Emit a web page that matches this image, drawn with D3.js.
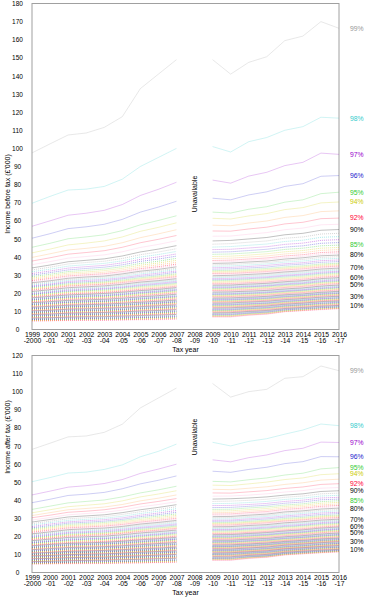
<!DOCTYPE html>
<html>
<head>
<meta charset="utf-8">
<script src="https://cdn.jsdelivr.net/npm/d3@7"></script>
<style>
  body { margin: 0; background: #fff; }
  svg text { font-family: "Liberation Sans", Arial, sans-serif; }
</style>
</head>
<body>
<div id="chart"></div>
<script>
// Percentile points of income, 1999-2000 to 2016-17 (2008-09 not available)
// Each array holds the 1st..99th percentile for one tax year, in £'000

const yearStart = ["1999", "2000", "2001", "2002", "2003", "2004", "2005", "2006", "2007",
                   "2008", "2009", "2010", "2011", "2012", "2013", "2014", "2015", "2016"];
const yearEnd = ["-2000", "-01", "-02", "-03", "-04", "-05", "-06", "-07", "-08",
                 "-09", "-10", "-11", "-12", "-13", "-14", "-15", "-16", "-17"];

// ---- income before tax ----
const before1999 = [4.6,4.8,5.0,5.2,5.4,5.5,5.7,5.9,6.1,6.3, 6.5,6.7,6.9,7.1,7.3,7.5,7.7,7.9,8.1,8.3,8.5,8.7,8.9,9.1,9.3, 9.5,9.7,9.9,10.1,10.3,10.5,10.7,10.9,11.1,11.3,11.5,11.7,11.9,12.1,12.3, 12.6,12.8,13.1,13.3,13.6,13.8,14.1,14.3,14.6,14.8, 15.1,15.3,15.6,15.9,16.2,16.4,16.7,17.0,17.3,17.5,17.8,18.1, 18.4,18.7,19.1,19.4,19.8,20.2,20.6,21.0,21.4,21.8,22.2,22.6,23.1, 23.6,24.1,24.6,25.2,25.8,26.4,27.0, 27.7,28.4,29.2,30.0,30.9,31.9,32.9,34.0, 35.8,37.8,39.8,42.3,45.4,50.4,57.0,69.7,97.5];
const before2000 = [4.7,4.9,5.1,5.3,5.5,5.7,5.9,6.1,6.3,6.5, 6.7,6.9,7.1,7.3,7.5,7.7,7.9,8.1,8.3,8.5,8.8,9.0,9.2,9.4,9.6, 9.8,10.0,10.2,10.4,10.6,10.8,11.0,11.2,11.5,11.7,11.9,12.1,12.3,12.6,12.8, 13.1,13.3,13.6,13.8,14.1,14.4,14.6,14.9,15.1,15.4, 15.7,16.0,16.3,16.6,16.9,17.2,17.5,17.7,18.0,18.3,18.6,18.9, 19.3,19.6,20.0,20.4,20.8,21.2,21.6,22.0,22.4,22.8,23.2,23.6,24.1, 24.6,25.1,25.7,26.3,26.9,27.5,28.2, 28.9,29.7,30.5,31.4,32.3,33.3,34.4,35.6, 37.5,39.6,41.8,44.4,47.6,52.9,60.0,73.5,102.5];
const before2001 = [4.9,5.1,5.3,5.5,5.7,5.9,6.2,6.4,6.6,6.8, 7.0,7.2,7.5,7.7,7.9,8.1,8.3,8.6,8.8,9.0,9.2,9.4,9.7,9.9,10.1, 10.3,10.5,10.8,11.0,11.2,11.4,11.6,11.9,12.1,12.3,12.5,12.7,13.0,13.2,13.4, 13.7,13.9,14.2,14.5,14.8,15.0,15.3,15.6,15.8,16.1, 16.4,16.7,17.0,17.3,17.6,17.9,18.2,18.5,18.8,19.1,19.4,19.7, 20.1,20.5,20.9,21.3,21.8,22.2,22.6,23.1,23.5,24.0,24.4,24.8,25.3, 25.9,26.5,27.1,27.7,28.3,29.0,29.6, 30.4,31.2,32.0,32.9,33.9,35.0,36.2,37.4, 39.4,41.6,43.9,46.7,50.1,55.7,63.1,77.0,107.4];
const before2002 = [5.0,5.2,5.4,5.7,5.9,6.1,6.3,6.6,6.8,7.0, 7.2,7.4,7.7,7.9,8.1,8.3,8.5,8.8,9.0,9.2,9.4,9.6,9.9,10.1,10.3, 10.5,10.8,11.0,11.2,11.4,11.7,11.9,12.1,12.3,12.6,12.8,13.0,13.2,13.5,13.7, 14.0,14.2,14.5,14.8,15.1,15.3,15.6,15.9,16.1,16.4, 16.7,17.0,17.3,17.6,17.9,18.3,18.6,18.9,19.2,19.5,19.8,20.1, 20.5,21.0,21.4,21.8,22.3,22.7,23.2,23.6,24.0,24.5,24.9,25.4,25.8, 26.4,27.1,27.7,28.3,29.0,29.6,30.2, 31.0,31.8,32.7,33.7,34.7,35.8,37.0,38.2, 40.3,42.5,44.8,47.7,51.1,56.7,64.2,77.5,108.5];
const before2003 = [5.0,5.2,5.5,5.7,5.9,6.2,6.4,6.6,6.9,7.1, 7.3,7.6,7.8,8.0,8.2,8.5,8.7,8.9,9.1,9.4,9.6,9.8,10.1,10.3,10.5, 10.7,11.0,11.2,11.4,11.7,11.9,12.1,12.4,12.6,12.8,13.1,13.3,13.5,13.8,14.0, 14.3,14.5,14.8,15.1,15.4,15.6,15.9,16.2,16.4,16.7, 17.0,17.3,17.7,18.0,18.3,18.6,18.9,19.2,19.6,19.9,20.2,20.5, 20.9,21.4,21.8,22.3,22.7,23.2,23.6,24.1,24.5,25.0,25.4,25.9,26.3, 26.9,27.6,28.2,28.9,29.5,30.2,30.8, 31.6,32.5,33.4,34.4,35.4,36.5,37.7,39.0, 41.2,43.5,45.9,48.9,52.3,58.1,65.8,79.0,111.6];
const before2004 = [5.1,5.4,5.6,5.9,6.1,6.4,6.6,6.9,7.1,7.4, 7.6,7.9,8.1,8.3,8.6,8.8,9.0,9.3,9.5,9.7,10.0,10.2,10.4,10.7,10.9, 11.1,11.4,11.6,11.9,12.1,12.3,12.6,12.8,13.1,13.3,13.5,13.8,14.0,14.3,14.5, 14.8,15.1,15.3,15.6,15.9,16.2,16.5,16.7,17.0,17.3, 17.6,18.0,18.3,18.6,18.9,19.3,19.6,19.9,20.2,20.6,20.9,21.2, 21.7,22.1,22.6,23.1,23.5,24.0,24.5,25.0,25.4,25.9,26.4,26.8,27.3, 28.0,28.6,29.3,30.0,30.7,31.3,32.0, 32.9,33.8,34.7,35.7,36.8,37.9,39.2,40.6, 42.9,45.4,47.9,51.1,54.6,60.8,69.0,83.0,117.5];
const before2005 = [5.3,5.6,5.8,6.1,6.4,6.6,6.9,7.2,7.4,7.7, 7.9,8.2,8.4,8.7,8.9,9.2,9.4,9.7,9.9,10.2,10.4,10.7,10.9,11.2,11.4, 11.6,11.9,12.1,12.4,12.6,12.9,13.1,13.4,13.6,13.9,14.1,14.4,14.6,14.9,15.1, 15.4,15.7,16.0,16.3,16.6,16.9,17.2,17.5,17.8,18.1, 18.4,18.8,19.1,19.5,19.8,20.2,20.5,20.8,21.2,21.5,21.9,22.2, 22.7,23.2,23.7,24.2,24.7,25.2,25.7,26.2,26.6,27.1,27.6,28.1,28.6, 29.3,30.0,30.7,31.5,32.2,32.9,33.6, 34.5,35.5,36.5,37.6,38.7,40.0,41.3,42.8, 45.3,47.9,50.7,54.2,57.8,64.8,74.0,90.0,133.0];
const before2006 = [5.4,5.7,6.0,6.3,6.6,6.8,7.1,7.4,7.7,8.0, 8.3,8.5,8.8,9.0,9.3,9.5,9.8,10.0,10.3,10.5,10.8,11.0,11.3,11.5,11.8, 12.1,12.3,12.6,12.8,13.1,13.3,13.6,13.8,14.1,14.3,14.6,14.8,15.1,15.3,15.6, 15.9,16.2,16.5,16.8,17.2,17.5,17.8,18.1,18.4,18.7, 19.1,19.4,19.8,20.1,20.5,20.8,21.2,21.5,21.9,22.2,22.6,22.9, 23.4,23.9,24.4,25.0,25.5,26.0,26.5,27.0,27.5,28.1,28.6,29.1,29.6, 30.3,31.1,31.8,32.5,33.2,34.0,34.7, 35.7,36.7,37.7,38.9,40.1,41.4,42.8,44.4, 47.0,49.8,52.8,56.4,60.2,67.6,77.4,95.0,141.0];
const before2007 = [5.6,5.9,6.2,6.5,6.8,7.1,7.4,7.7,8.0,8.3, 8.6,8.8,9.1,9.4,9.6,9.9,10.2,10.4,10.7,11.0,11.2,11.5,11.8,12.0,12.3, 12.6,12.8,13.1,13.4,13.6,13.9,14.2,14.4,14.7,15.0,15.2,15.5,15.8,16.0,16.3, 16.6,16.9,17.3,17.6,17.9,18.2,18.5,18.9,19.2,19.5, 19.9,20.2,20.6,21.0,21.3,21.7,22.1,22.4,22.8,23.2,23.5,23.9, 24.4,25.0,25.5,26.0,26.6,27.1,27.6,28.1,28.7,29.2,29.7,30.3,30.8, 31.6,32.3,33.1,33.8,34.6,35.3,36.1, 37.1,38.2,39.3,40.5,41.7,43.1,44.6,46.3, 49.0,51.9,55.1,58.9,62.8,70.8,81.3,100.0,149.0];
const before2009 = [6.8,7.1,7.3,7.6,7.9,8.1,8.4,8.7,8.9,9.2, 9.5,9.7,10.0,10.3,10.5,10.8,11.1,11.3,11.6,11.9,12.1,12.4,12.7,12.9,13.2, 13.5,13.8,14.0,14.3,14.6,14.9,15.2,15.4,15.7,16.0,16.3,16.6,16.8,17.1,17.4, 17.7,18.1,18.4,18.7,19.1,19.4,19.7,20.0,20.4,20.7, 21.1,21.5,21.9,22.2,22.6,23.0,23.4,23.8,24.1,24.5,24.9,25.3, 25.9,26.4,27.0,27.5,28.1,28.6,29.2,29.7,30.3,30.9,31.4,32.0,32.5, 33.3,34.1,34.9,35.7,36.5,37.3,38.1, 39.2,40.3,41.5,42.7,44.1,45.5,47.1,48.9, 51.5,54.4,57.6,61.4,64.8,72.5,82.5,101.0,149.0];
const before2010 = [6.8,7.1,7.4,7.6,7.9,8.2,8.5,8.7,9.0,9.3, 9.6,9.8,10.1,10.4,10.6,10.9,11.2,11.4,11.7,12.0,12.2,12.5,12.8,13.0,13.3, 13.6,13.9,14.1,14.4,14.7,15.0,15.3,15.5,15.8,16.1,16.4,16.7,16.9,17.2,17.5, 17.8,18.2,18.5,18.8,19.2,19.5,19.8,20.1,20.5,20.8, 21.2,21.6,22.0,22.3,22.7,23.1,23.5,23.9,24.2,24.6,25.0,25.4, 26.0,26.5,27.1,27.6,28.2,28.8,29.3,29.9,30.5,31.0,31.6,32.1,32.7, 33.5,34.3,35.1,35.9,36.7,37.5,38.3, 39.4,40.5,41.7,42.9,44.3,45.8,47.4,49.2, 51.6,54.3,57.3,61.0,64.3,71.6,80.8,98.0,141.0];
const before2011 = [7.8,8.0,8.3,8.5,8.8,9.0,9.3,9.5,9.8,10.0, 10.3,10.5,10.8,11.0,11.3,11.5,11.8,12.0,12.3,12.5,12.8,13.0,13.3,13.5,13.8, 14.1,14.3,14.6,14.9,15.2,15.4,15.7,16.0,16.3,16.5,16.8,17.1,17.4,17.6,17.9, 18.2,18.6,18.9,19.2,19.6,19.9,20.2,20.5,20.9,21.2, 21.6,22.0,22.4,22.8,23.2,23.6,23.9,24.3,24.7,25.1,25.5,25.9, 26.5,27.0,27.6,28.1,28.7,29.3,29.8,30.4,31.0,31.5,32.1,32.6,33.2, 34.0,34.8,35.6,36.5,37.3,38.1,38.9, 40.0,41.1,42.3,43.6,45.0,46.5,48.2,50.0, 52.6,55.5,58.8,62.7,66.4,74.3,84.7,103.7,147.5];
const before2012 = [8.4,8.6,8.9,9.1,9.3,9.6,9.8,10.0,10.3,10.5, 10.7,11.0,11.2,11.5,11.7,12.0,12.2,12.5,12.7,13.0,13.2,13.5,13.7,14.0,14.2, 14.5,14.7,15.0,15.3,15.6,15.8,16.1,16.4,16.7,16.9,17.2,17.5,17.8,18.0,18.3, 18.6,19.0,19.3,19.6,20.0,20.3,20.6,20.9,21.3,21.6, 22.0,22.4,22.8,23.2,23.6,24.0,24.3,24.7,25.1,25.5,25.9,26.3, 26.9,27.4,28.0,28.6,29.1,29.7,30.3,30.9,31.4,32.0,32.6,33.1,33.7, 34.5,35.4,36.2,37.0,37.8,38.7,39.5, 40.6,41.8,43.0,44.3,45.7,47.2,48.9,50.8, 53.5,56.5,59.9,64.0,67.8,76.0,86.8,106.0,150.6];
const before2013 = [9.7,9.9,10.1,10.3,10.5,10.8,11.0,11.2,11.4,11.6, 11.8,12.1,12.3,12.6,12.8,13.0,13.3,13.5,13.8,14.0,14.2,14.5,14.7,15.0,15.2, 15.5,15.7,16.0,16.3,16.5,16.8,17.1,17.3,17.6,17.9,18.1,18.4,18.7,18.9,19.2, 19.5,19.8,20.2,20.5,20.8,21.1,21.4,21.8,22.1,22.4, 22.8,23.2,23.6,24.0,24.4,24.8,25.2,25.6,26.0,26.4,26.8,27.2, 27.8,28.3,28.9,29.5,30.0,30.6,31.2,31.8,32.3,32.9,33.5,34.0,34.6, 35.5,36.3,37.2,38.0,38.9,39.7,40.6, 41.7,42.9,44.2,45.5,47.0,48.6,50.4,52.3, 55.1,58.3,61.9,66.2,70.3,79.0,90.5,110.0,159.5];
const before2014 = [10.3,10.5,10.7,10.9,11.1,11.4,11.6,11.8,12.0,12.2, 12.4,12.7,12.9,13.2,13.4,13.6,13.9,14.1,14.4,14.6,14.8,15.1,15.3,15.6,15.8, 16.1,16.3,16.6,16.8,17.1,17.4,17.6,17.9,18.1,18.4,18.7,18.9,19.2,19.4,19.7, 20.0,20.4,20.7,21.0,21.4,21.7,22.0,22.3,22.7,23.0, 23.4,23.8,24.2,24.6,25.0,25.4,25.8,26.2,26.6,27.0,27.4,27.8, 28.4,28.9,29.5,30.1,30.6,31.2,31.8,32.4,32.9,33.5,34.1,34.6,35.2, 36.1,36.9,37.8,38.7,39.6,40.4,41.3, 42.4,43.6,44.9,46.2,47.7,49.3,51.1,53.1, 56.0,59.2,62.9,67.3,71.6,80.5,92.3,112.0,162.0];
const before2015 = [10.9,11.1,11.3,11.6,11.8,12.0,12.2,12.5,12.7,12.9, 13.1,13.4,13.6,13.9,14.1,14.4,14.6,14.9,15.1,15.4,15.6,15.9,16.1,16.4,16.6, 16.9,17.1,17.4,17.7,17.9,18.2,18.5,18.7,19.0,19.3,19.5,19.8,20.1,20.3,20.6, 20.9,21.3,21.6,22.0,22.3,22.6,23.0,23.3,23.7,24.0, 24.4,24.8,25.2,25.6,26.0,26.4,26.9,27.3,27.7,28.1,28.5,28.9, 29.5,30.0,30.6,31.1,31.7,32.3,32.8,33.4,34.0,34.5,35.1,35.6,36.2, 37.1,38.0,38.9,39.8,40.7,41.6,42.5, 43.7,44.9,46.2,47.6,49.2,50.9,52.7,54.8, 57.8,61.2,65.1,69.9,75.0,84.6,97.4,117.2,170.0];
const before2016 = [11.4,11.6,11.8,12.0,12.2,12.5,12.7,12.9,13.1,13.3, 13.6,13.8,14.1,14.3,14.6,14.8,15.1,15.3,15.6,15.8,16.1,16.3,16.6,16.8,17.1, 17.4,17.6,17.9,18.2,18.4,18.7,19.0,19.2,19.5,19.8,20.0,20.3,20.6,20.8,21.1, 21.5,21.8,22.2,22.5,22.9,23.2,23.6,23.9,24.3,24.6, 25.0,25.4,25.8,26.2,26.6,27.0,27.5,27.9,28.3,28.7,29.1,29.5, 30.0,30.6,31.1,31.7,32.2,32.8,33.3,33.9,34.4,35.0,35.5,36.1,36.6, 37.5,38.4,39.3,40.2,41.1,42.0,42.9, 44.1,45.3,46.6,48.0,49.6,51.3,53.1,55.2, 58.1,61.5,65.5,70.4,75.8,85.0,96.7,116.7,166.3];

// ---- income after tax ----
const after1999 = [4.6,4.8,4.9,5.1,5.2,5.4,5.5,5.7,5.8,6.0, 6.2,6.3,6.5,6.6,6.8,7.0,7.1,7.3,7.4,7.6,7.8,7.9,8.1,8.2,8.4, 8.6,8.7,8.9,9.0,9.2,9.3,9.5,9.6,9.8,9.9,10.1,10.2,10.4,10.5,10.7, 10.9,11.1,11.3,11.5,11.7,11.8,12.0,12.2,12.4,12.6, 12.8,13.0,13.3,13.5,13.7,13.9,14.1,14.3,14.6,14.8,15.0,15.2, 15.5,15.8,16.1,16.4,16.7,17.0,17.3,17.6,18.0,18.3,18.6,18.9,19.2, 19.6,20.1,20.5,21.0,21.4,21.9,22.3, 22.9,23.5,24.1,24.7,25.4,26.2,27.0,27.9, 29.0,30.3,31.5,33.0,34.9,38.6,42.9,50.2,68.1];
const after2000 = [4.7,4.9,5.0,5.2,5.4,5.5,5.7,5.9,6.0,6.2, 6.4,6.5,6.7,6.8,7.0,7.2,7.3,7.5,7.6,7.8,8.0,8.1,8.3,8.4,8.6, 8.8,8.9,9.1,9.3,9.4,9.6,9.8,9.9,10.1,10.3,10.4,10.6,10.8,10.9,11.1, 11.3,11.5,11.7,11.9,12.2,12.4,12.6,12.8,13.0,13.2, 13.4,13.7,13.9,14.1,14.3,14.6,14.8,15.0,15.2,15.5,15.7,15.9, 16.2,16.5,16.9,17.2,17.5,17.8,18.2,18.5,18.8,19.1,19.4,19.8,20.1, 20.6,21.1,21.6,22.0,22.5,23.0,23.5, 24.1,24.7,25.3,26.0,26.8,27.6,28.4,29.3, 30.4,31.7,33.1,34.7,36.7,40.5,45.0,52.5,71.5];
const after2001 = [4.8,5.0,5.2,5.4,5.6,5.7,5.9,6.1,6.3,6.5, 6.7,6.8,7.0,7.2,7.4,7.5,7.7,7.9,8.1,8.2,8.4,8.6,8.7,8.9,9.1, 9.3,9.4,9.6,9.8,9.9,10.1,10.3,10.5,10.7,10.8,11.0,11.2,11.3,11.5,11.7, 11.9,12.1,12.3,12.5,12.8,13.0,13.2,13.4,13.6,13.8, 14.0,14.3,14.5,14.7,15.0,15.2,15.4,15.7,15.9,16.1,16.4,16.6, 17.0,17.3,17.7,18.0,18.4,18.7,19.1,19.4,19.8,20.1,20.5,20.8,21.2, 21.7,22.2,22.7,23.2,23.7,24.2,24.7, 25.3,25.9,26.6,27.3,28.0,28.8,29.7,30.7, 31.9,33.3,34.7,36.4,38.5,42.6,47.2,55.0,75.0];
const after2002 = [4.9,5.1,5.3,5.5,5.7,5.9,6.1,6.3,6.5,6.7, 6.9,7.0,7.2,7.4,7.6,7.7,7.9,8.1,8.3,8.4,8.6,8.8,8.9,9.1,9.3, 9.5,9.6,9.8,10.0,10.1,10.3,10.5,10.7,10.9,11.0,11.2,11.4,11.5,11.7,11.9, 12.1,12.3,12.5,12.7,13.0,13.2,13.4,13.6,13.8,14.0, 14.2,14.5,14.7,15.0,15.2,15.5,15.7,15.9,16.2,16.4,16.7,16.9, 17.3,17.6,18.0,18.4,18.7,19.1,19.4,19.8,20.2,20.5,20.9,21.2,21.6, 22.1,22.6,23.1,23.7,24.2,24.7,25.2, 25.8,26.5,27.1,27.8,28.6,29.4,30.3,31.3, 32.6,33.9,35.4,37.2,39.3,43.3,48.0,55.5,75.5];
const after2003 = [4.9,5.1,5.3,5.5,5.7,6.0,6.2,6.4,6.6,6.8, 7.0,7.1,7.3,7.5,7.7,7.8,8.0,8.2,8.4,8.5,8.7,8.9,9.0,9.2,9.4, 9.6,9.8,10.0,10.1,10.3,10.5,10.7,10.9,11.1,11.3,11.5,11.6,11.8,12.0,12.2, 12.4,12.6,12.8,13.0,13.3,13.5,13.7,13.9,14.1,14.3, 14.5,14.8,15.0,15.3,15.5,15.8,16.0,16.2,16.5,16.7,17.0,17.2, 17.6,18.0,18.3,18.7,19.0,19.4,19.8,20.1,20.5,20.9,21.3,21.6,22.0, 22.5,23.1,23.6,24.1,24.6,25.2,25.7, 26.3,27.0,27.7,28.4,29.2,30.0,30.9,31.9, 33.3,34.7,36.2,38.0,40.1,44.3,49.2,57.0,77.5];
const after2004 = [5.1,5.3,5.5,5.8,6.0,6.2,6.4,6.7,6.9,7.1, 7.3,7.5,7.6,7.8,8.0,8.2,8.4,8.5,8.7,8.9,9.1,9.3,9.4,9.6,9.8, 10.0,10.2,10.4,10.5,10.7,10.9,11.1,11.3,11.5,11.7,11.9,12.0,12.2,12.4,12.6, 12.8,13.0,13.3,13.5,13.7,13.9,14.1,14.4,14.6,14.8, 15.1,15.3,15.6,15.8,16.1,16.3,16.6,16.8,17.1,17.3,17.6,17.8, 18.2,18.6,19.0,19.3,19.7,20.1,20.5,20.9,21.3,21.7,22.0,22.4,22.8, 23.3,23.9,24.4,25.0,25.5,26.1,26.6, 27.3,28.0,28.7,29.4,30.2,31.1,32.1,33.1, 34.5,36.1,37.6,39.6,41.8,46.3,51.4,59.5,82.0];
const after2005 = [5.2,5.4,5.7,5.9,6.1,6.4,6.6,6.8,7.1,7.3, 7.5,7.7,7.9,8.1,8.3,8.5,8.7,8.8,9.0,9.2,9.4,9.6,9.8,10.0,10.2, 10.4,10.6,10.8,11.0,11.2,11.4,11.6,11.7,11.9,12.1,12.3,12.5,12.7,12.9,13.1, 13.3,13.6,13.8,14.0,14.3,14.5,14.7,14.9,15.2,15.4, 15.7,15.9,16.2,16.5,16.7,17.0,17.3,17.5,17.8,18.1,18.3,18.6, 19.0,19.4,19.8,20.2,20.6,21.0,21.5,21.9,22.3,22.7,23.1,23.5,23.9, 24.5,25.0,25.6,26.2,26.8,27.3,27.9, 28.6,29.3,30.1,30.9,31.7,32.6,33.6,34.7, 36.3,37.9,39.6,41.8,44.0,49.0,54.8,64.0,91.0];
const after2006 = [5.4,5.6,5.9,6.1,6.4,6.6,6.9,7.1,7.4,7.6, 7.8,8.0,8.2,8.4,8.6,8.8,9.0,9.2,9.4,9.6,9.8,10.0,10.2,10.4,10.6, 10.8,11.0,11.2,11.4,11.6,11.8,12.0,12.1,12.3,12.5,12.7,12.9,13.1,13.3,13.5, 13.8,14.0,14.3,14.5,14.8,15.0,15.3,15.5,15.8,16.0, 16.3,16.5,16.8,17.1,17.3,17.6,17.9,18.1,18.4,18.7,18.9,19.2, 19.6,20.0,20.5,20.9,21.3,21.7,22.2,22.6,23.0,23.4,23.8,24.3,24.7, 25.3,25.9,26.5,27.1,27.7,28.3,28.9, 29.6,30.4,31.2,32.0,32.9,33.9,34.9,36.0, 37.6,39.3,41.1,43.4,45.7,51.0,57.2,67.0,96.5];
const after2007 = [5.5,5.8,6.0,6.3,6.6,6.8,7.1,7.4,7.6,7.9, 8.1,8.3,8.5,8.7,8.9,9.1,9.3,9.6,9.8,10.0,10.2,10.4,10.6,10.8,11.0, 11.2,11.4,11.6,11.8,12.0,12.2,12.4,12.7,12.9,13.1,13.3,13.5,13.7,13.9,14.1, 14.4,14.6,14.9,15.1,15.4,15.6,15.9,16.1,16.4,16.6, 16.9,17.2,17.5,17.8,18.1,18.4,18.6,18.9,19.2,19.5,19.8,20.1, 20.5,21.0,21.4,21.8,22.3,22.7,23.1,23.5,24.0,24.4,24.8,25.3,25.7, 26.3,26.9,27.5,28.2,28.8,29.4,30.0, 30.8,31.6,32.4,33.3,34.3,35.3,36.4,37.5, 39.1,40.9,42.9,45.2,47.7,53.4,59.9,71.0,102.0];
const after2009 = [6.7,6.9,7.1,7.4,7.6,7.8,8.0,8.3,8.5,8.7, 8.9,9.1,9.3,9.6,9.8,10.0,10.2,10.4,10.6,10.8,11.0,11.3,11.5,11.7,11.9, 12.1,12.3,12.6,12.8,13.0,13.2,13.4,13.7,13.9,14.1,14.3,14.5,14.8,15.0,15.2, 15.5,15.7,16.0,16.3,16.6,16.8,17.1,17.4,17.6,17.9, 18.2,18.5,18.8,19.1,19.4,19.7,20.0,20.3,20.6,20.9,21.2,21.5, 22.0,22.4,22.9,23.4,23.8,24.3,24.8,25.3,25.7,26.2,26.7,27.1,27.6, 28.3,28.9,29.6,30.3,30.9,31.6,32.3, 33.1,34.0,34.9,35.9,37.0,38.1,39.3,40.6, 42.2,44.0,46.0,48.3,50.4,56.0,62.3,72.0,104.5];
const after2010 = [6.7,6.9,7.2,7.4,7.6,7.8,8.1,8.3,8.5,8.7, 8.9,9.2,9.4,9.6,9.8,10.0,10.3,10.5,10.7,10.9,11.1,11.3,11.5,11.7,11.9, 12.1,12.4,12.6,12.8,13.0,13.3,13.5,13.7,13.9,14.2,14.4,14.6,14.8,15.1,15.3, 15.6,15.8,16.1,16.3,16.6,16.9,17.1,17.4,17.6,17.9, 18.2,18.5,18.8,19.1,19.4,19.7,20.1,20.4,20.7,21.0,21.3,21.6, 22.1,22.5,23.0,23.5,23.9,24.4,24.9,25.4,25.8,26.3,26.8,27.2,27.7, 28.4,29.0,29.7,30.4,31.0,31.7,32.4, 33.2,34.1,35.0,36.0,37.1,38.2,39.5,40.8, 42.3,43.9,45.8,48.1,50.1,55.4,61.2,70.0,97.0];
const after2011 = [7.7,7.9,8.1,8.3,8.5,8.7,8.9,9.1,9.3,9.5, 9.7,9.9,10.1,10.3,10.5,10.7,10.9,11.1,11.3,11.5,11.7,11.9,12.1,12.3,12.5, 12.7,12.9,13.2,13.4,13.6,13.8,14.0,14.3,14.5,14.7,14.9,15.1,15.4,15.6,15.8, 16.1,16.3,16.6,16.9,17.2,17.4,17.7,18.0,18.2,18.5, 18.8,19.1,19.4,19.7,20.0,20.3,20.7,21.0,21.3,21.6,21.9,22.2, 22.7,23.1,23.6,24.1,24.5,25.0,25.5,26.0,26.4,26.9,27.4,27.8,28.3, 29.0,29.7,30.4,31.0,31.7,32.4,33.1, 33.9,34.8,35.7,36.6,37.6,38.7,39.9,41.2, 42.8,44.6,46.6,49.0,51.3,57.0,63.5,72.5,100.0];
const after2012 = [8.3,8.5,8.7,8.9,9.1,9.2,9.4,9.6,9.8,10.0, 10.2,10.4,10.6,10.8,11.0,11.2,11.4,11.6,11.8,12.0,12.2,12.4,12.6,12.8,13.0, 13.2,13.4,13.7,13.9,14.1,14.3,14.5,14.8,15.0,15.2,15.4,15.6,15.9,16.1,16.3, 16.6,16.8,17.1,17.3,17.6,17.9,18.1,18.4,18.6,18.9, 19.2,19.5,19.9,20.2,20.5,20.8,21.1,21.4,21.8,22.1,22.4,22.7, 23.2,23.7,24.1,24.6,25.1,25.6,26.0,26.5,27.0,27.5,28.0,28.4,28.9, 29.6,30.3,31.0,31.6,32.3,33.0,33.7, 34.5,35.4,36.3,37.2,38.2,39.3,40.5,41.8, 43.5,45.3,47.4,50.0,52.3,58.2,65.0,74.0,101.3];
const after2013 = [9.6,9.8,10.0,10.1,10.3,10.5,10.7,10.8,11.0,11.2, 11.4,11.6,11.8,11.9,12.1,12.3,12.5,12.7,12.9,13.1,13.3,13.4,13.6,13.8,14.0, 14.2,14.4,14.6,14.9,15.1,15.3,15.5,15.7,15.9,16.1,16.3,16.6,16.8,17.0,17.2, 17.5,17.7,18.0,18.2,18.5,18.8,19.0,19.3,19.5,19.8, 20.1,20.4,20.8,21.1,21.4,21.7,22.0,22.3,22.7,23.0,23.3,23.6, 24.1,24.6,25.1,25.5,26.0,26.5,27.0,27.5,28.0,28.5,28.9,29.4,29.9, 30.6,31.3,32.0,32.8,33.5,34.2,34.9, 35.7,36.5,37.3,38.3,39.3,40.4,41.6,42.8, 44.5,46.5,48.7,51.4,53.9,60.2,67.4,76.5,107.4];
const after2014 = [10.2,10.4,10.6,10.7,10.9,11.1,11.3,11.4,11.6,11.8, 12.0,12.2,12.4,12.5,12.7,12.9,13.1,13.3,13.5,13.7,13.9,14.0,14.2,14.4,14.6, 14.8,15.0,15.2,15.5,15.7,15.9,16.1,16.3,16.5,16.7,16.9,17.2,17.4,17.6,17.8, 18.1,18.3,18.6,18.8,19.1,19.4,19.6,19.9,20.1,20.4, 20.7,21.0,21.4,21.7,22.0,22.3,22.6,22.9,23.3,23.6,23.9,24.2, 24.7,25.2,25.7,26.1,26.6,27.1,27.6,28.1,28.6,29.1,29.5,30.0,30.5, 31.2,32.0,32.7,33.4,34.1,34.9,35.6, 36.4,37.2,38.0,39.0,40.0,41.1,42.3,43.5, 45.3,47.3,49.6,52.3,54.9,61.3,68.7,78.8,108.3];
const after2015 = [10.8,11.0,11.2,11.3,11.5,11.7,11.9,12.0,12.2,12.4, 12.6,12.8,13.0,13.2,13.4,13.6,13.8,14.0,14.2,14.4,14.6,14.8,15.0,15.2,15.4, 15.6,15.8,16.0,16.3,16.5,16.7,16.9,17.1,17.3,17.5,17.7,18.0,18.2,18.4,18.6, 18.9,19.1,19.4,19.7,20.0,20.2,20.5,20.8,21.0,21.3, 21.6,22.0,22.3,22.6,22.9,23.3,23.6,23.9,24.2,24.6,24.9,25.2, 25.7,26.2,26.6,27.1,27.6,28.1,28.5,29.0,29.5,30.0,30.5,30.9,31.4, 32.1,32.9,33.6,34.4,35.1,35.9,36.6, 37.4,38.3,39.2,40.2,41.2,42.3,43.5,44.8, 46.6,48.7,51.1,54.1,57.3,64.1,72.1,82.1,114.2];
const after2016 = [11.3,11.5,11.6,11.8,12.0,12.1,12.3,12.5,12.6,12.8, 13.0,13.2,13.4,13.6,13.8,14.0,14.2,14.5,14.7,14.9,15.1,15.3,15.5,15.7,15.9, 16.1,16.3,16.5,16.8,17.0,17.2,17.4,17.6,17.8,18.0,18.2,18.5,18.7,18.9,19.1, 19.4,19.7,19.9,20.2,20.5,20.8,21.1,21.3,21.6,21.9, 22.2,22.6,22.9,23.2,23.5,23.9,24.2,24.5,24.8,25.2,25.5,25.8, 26.3,26.7,27.2,27.6,28.1,28.6,29.0,29.5,30.0,30.4,30.9,31.3,31.8, 32.6,33.3,34.1,34.8,35.6,36.3,37.1, 37.9,38.8,39.7,40.6,41.6,42.7,43.9,45.2, 47.0,49.1,51.6,54.6,58.0,64.0,71.9,81.2,111.6];

// one entry per tax year, null where the year is unavailable
const beforeByYear = [before1999, before2000, before2001, before2002, before2003, before2004, before2005,
  before2006, before2007, null, before2009, before2010, before2011, before2012, before2013, before2014,
  before2015, before2016];
const afterByYear = [after1999, after2000, after2001, after2002, after2003, after2004, after2005,
  after2006, after2007, null, after2009, after2010, after2011, after2012, after2013, after2014,
  after2015, after2016];

// percentiles that get a label at the right hand side
const labelPcts = [99, 98, 97, 96, 95, 94, 92, 90, 85, 80, 70, 60, 50, 30, 10];

// colour cycle by last digit of the percentile (0 = 10%, 20% ... 90%)
const colorCycle = ["#000000", "#ff99cc", "#ff0033", "#ff9933", "#cccc00",
                    "#33cc33", "#2222cc", "#9900cc", "#33cccc", "#999999"];

// quick sanity check on the year arrays
beforeByYear.concat(afterByYear).forEach(function(arr, i) {
    if (arr && arr.length !== 99) console.log("array", i, "has", arr.length, "values");
});

const width = 370;
const height = 599;

const svg = d3.select("#chart")
    .append("svg")
    .attr("width", width)
    .attr("height", height);

// shared x scale: first year on the left border, last year on the right border
const xScale = d3.scalePoint()
    .domain(yearStart)
    .range([32, 339]);

const panels = [
    {byYear: beforeByYear, max: 180, top: 3.5, bottom: 329.5, title: "Income before tax (£'000)", midY: 194},
    {byYear: afterByYear, max: 120, top: 355.5, bottom: 572.5, title: "Income after tax (£'000)", midY: 437}
];

panels.forEach(function(panel) {
    const yScale = d3.scaleLinear()
        .domain([0, panel.max])
        .range([panel.bottom, panel.top]);

    // plot frame
    svg.append("rect")
        .attr("x", 32)
        .attr("y", panel.top)
        .attr("width", 339 - 32)
        .attr("height", panel.bottom - panel.top)
        .attr("fill", "none")
        .attr("stroke", "#a0a0a0")
        .attr("stroke-width", 1);

    // y axis labels only (no ticks), centred under each other
    const yAxis = svg.append("g")
        .attr("transform", "translate(17.5,0)")
        .call(d3.axisLeft(yScale).tickValues(d3.range(0, panel.max + 1, 10)).tickSize(0));
    yAxis.select(".domain").remove();
    yAxis.selectAll("text")
        .attr("x", 0)
        .attr("text-anchor", "middle")
        .style("font-size", "6.5px")
        .style("font-family", "'Liberation Sans', Arial, sans-serif")
        .attr("fill", "#000");

    // x axis: two line tax year labels
    const xAxis = svg.append("g")
        .attr("transform", `translate(0,${panel.bottom})`)
        .call(d3.axisBottom(xScale).tickSize(0));
    xAxis.select(".domain").remove();
    xAxis.selectAll(".tick text")
        .attr("y", 7)
        .attr("dy", null)
        .style("font-size", "6.8px")
        .style("font-family", "'Liberation Sans', Arial, sans-serif")
        .attr("fill", "#000");
    xAxis.selectAll(".tick")
        .append("text")
        .attr("y", 13.6)
        .attr("text-anchor", "middle")
        .style("font-size", "6.8px")
        .attr("fill", "#000")
        .text((d, i) => yearEnd[i]);

    svg.append("text")
        .attr("x", (32 + 339) / 2)
        .attr("y", panel.bottom + 22)
        .attr("text-anchor", "middle")
        .style("font-size", "7px")
        .text("Tax year");

    // y axis title
    svg.append("text")
        .attr("transform", `translate(9.5,${panel.midY}) rotate(-90)`)
        .attr("text-anchor", "middle")
        .style("font-size", "7px")
        .text(panel.title);

    // note over the missing year
    svg.append("text")
        .attr("transform", `translate(${xScale("2008") + 2.5},${panel.midY}) rotate(-90)`)
        .attr("text-anchor", "middle")
        .style("font-size", "7px")
        .text("Unavailable");

    // one line per percentile, broken where the year is missing
    const line = d3.line()
        .defined(d => d.v !== null)
        .x(d => xScale(d.year))
        .y(d => yScale(d.v));

    for (let p = 1; p <= 99; p++) {
        const series = yearStart.map((year, i) => ({
            year: year,
            v: panel.byYear[i] ? panel.byYear[i][p - 1] : null
        }));
        const digit = p % 10;
        const dashed = p < 90 && digit !== 0;
        const path = svg.append("path")
            .datum(series)
            .attr("fill", "none")
            .attr("stroke", digit === 0 ? "#333333" : colorCycle[digit])
            .attr("stroke-width", dashed ? 0.8 : 0.5)
            .attr("stroke-opacity", digit === 0 ? 0.6 : (dashed ? 0.5 : 0.45))
            .attr("d", line);
        if (dashed) {
            path.attr("stroke-dasharray", "1,1");
        }
    }

    // labels at the end of selected lines
    labelPcts.forEach(function(p) {
        const last = panel.byYear[panel.byYear.length - 1][p - 1];
        svg.append("text")
            .attr("x", 350)
            .attr("y", yScale(last))
            .attr("dy", "0.35em")
            .style("font-size", "6.8px")
            .attr("fill", colorCycle[p % 10])
            .text(p + "%");
    });
});
</script>
</body>
</html>
